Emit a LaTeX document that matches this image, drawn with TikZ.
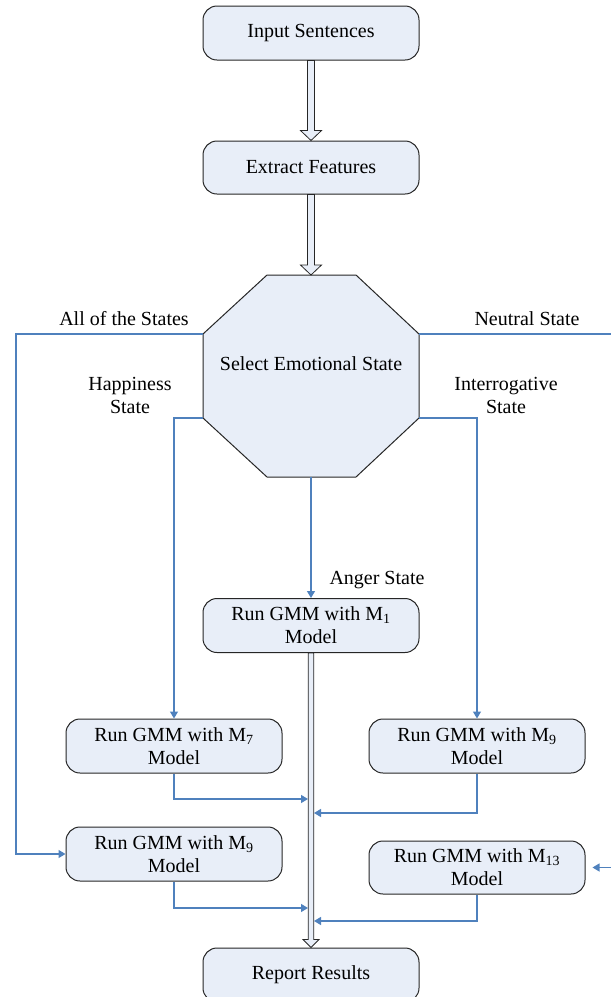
\documentclass[tikz,border=0pt]{standalone}
\usepackage{fontspec}
\setmainfont{Liberation Serif}
\usetikzlibrary{arrows.meta,calc}

\definecolor{boxfill}{RGB}{232,238,248}
\definecolor{wireblue}{RGB}{79,129,189}
\definecolor{edgegray}{RGB}{38,38,38}

% hollow block arrow: from, to, half shaft, half head, head length
\newcommand{\hollowarrow}[5]{%
  \draw[bigarrow] let \p1=(#1), \p2=(#2) in
    (\x1-#3,\y1) -- (\x1-#3,\y2+#5) -- (\x1-#4,\y2+#5) -- (\x1,\y2)
    -- (\x1+#4,\y2+#5) -- (\x1+#3,\y2+#5) -- (\x1+#3,\y1) -- cycle;}

\begin{document}
\begin{tikzpicture}[x=1pt,y=-1pt,
    stepbox/.style={draw=edgegray, line width=1pt, fill=boxfill, rounded corners=14pt,
      minimum width=216pt, minimum height=54pt, inner sep=0pt, align=center,
      font=\fontsize{20}{23}\selectfont},
    statetext/.style={font=\fontsize{20}{23}\selectfont, align=center, inner sep=0pt},
    wire/.style={draw=wireblue, line width=1.2pt},
    wirearrow/.style={wire, -{Triangle[length=7pt,width=8pt]}},
    bigarrow/.style={draw=edgegray, line width=0.8pt, fill=boxfill}]

                \useasboundingbox (0,0) rectangle (611,997);

                \node [stepbox] (input) at (311,33) {Input Sentences};
                \node [stepbox, minimum height=53pt] (extract) at (311,167.5) {Extract Features};

                % octagon corners
                \coordinate (oT) at (311,275);
                \coordinate (o1) at (267,275);
                \coordinate (o2) at (356,275);
                \coordinate (oRt) at (419,334);
                \coordinate (oRb) at (419,418);
                \coordinate (o5) at (356,477);
                \coordinate (oB) at (311,477);
                \coordinate (o6) at (267,477);
                \coordinate (oLb) at (203,418);
                \coordinate (oLt) at (203,334);

                \draw[bigarrow, line width=1pt] (o1) -- (o2) -- (oRt) -- (oRb) -- (o5)
                    -- (o6) -- (oLb) -- (oLt) -- cycle;
                \node [statetext] (select) at (311,364) {Select Emotional State};

                \node [stepbox] (m1) at (311,625.5) {Run GMM with M\textsubscript{1}\\Model};
                \node [stepbox] (m7) at (174,746) {Run GMM with M\textsubscript{7}\\Model};
                \node [stepbox] (m9b) at (477,746) {Run GMM with M\textsubscript{9}\\Model};
                \node [stepbox] (m9a) at (174,854) {Run GMM with M\textsubscript{9}\\Model};
                \node [stepbox, minimum height=53pt] (m13) at (477,867.5) {Run GMM with M\textsubscript{13}\\Model};
                \node [stepbox] (report) at (311,975) {Report Results};

                \hollowarrow{input.south}{extract.north}{3.5pt}{10.5pt}{10pt}
                \hollowarrow{extract.south}{oT}{3.5pt}{10.5pt}{10pt}
                \hollowarrow{m1.south}{report.north}{2.8pt}{8pt}{8pt}

                \node [statetext] (allst) at (124,319) {All of the States};
                \node [statetext] (neust) at (527,319) {Neutral State};
                \node [statetext] (hapst) at (130,395) {Happiness\\State};
                \node [statetext] (intst) at (506,395) {Interrogative\\State};
                \node [statetext] (angst) at (377,580) {Anger State};

                \coordinate (aL) at (16,334);
                \coordinate (nR) at (616,334);
                \coordinate (j7) at (308,799);
                \coordinate (j9b) at (314,813);
                \coordinate (j9a) at (308,908);
                \coordinate (j13) at (314,921);

                \draw[wirearrow] (oLt) -- (aL) |- (m9a.west);
                \draw[wirearrow, shorten >=7pt] (oRt) -- (nR) |- (m13.east);
                \draw[wirearrow] (oLb) -| (m7.north);
                \draw[wirearrow] (oRb) -| (m9b.north);
                \draw[wirearrow] (oB) -- (m1.north);

                \draw[wirearrow] (m7.south) |- (j7);
                \draw[wirearrow] (m9b.south) |- (j9b);
                \draw[wirearrow] (m9a.south) |- (j9a);
                \draw[wirearrow] (m13.south) |- (j13);

                \end{tikzpicture}
\end{document}
